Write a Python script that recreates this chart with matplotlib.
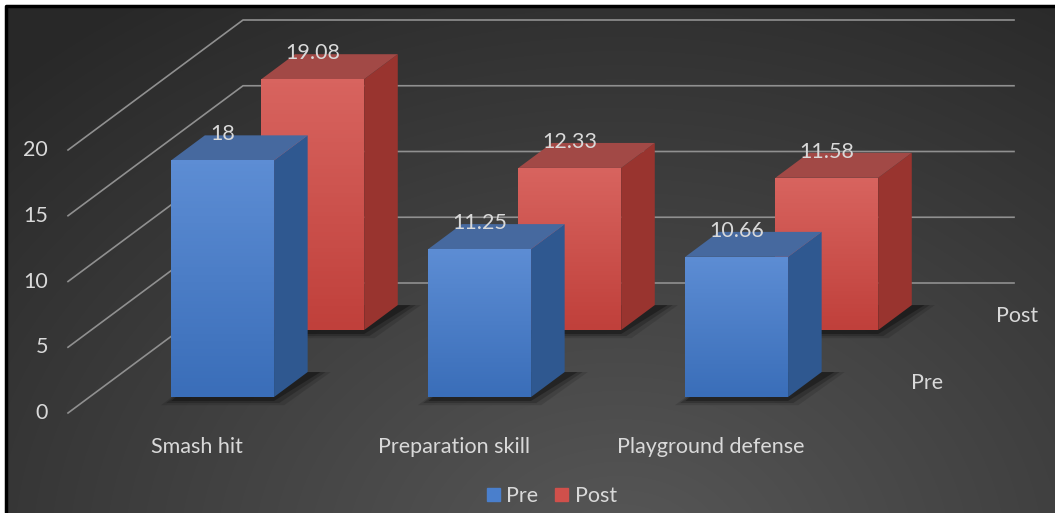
import numpy as np
import matplotlib.pyplot as plt
from matplotlib.patches import Polygon, Patch
from matplotlib.colors import LinearSegmentedColormap

plt.rcParams['font.family'] = ['Lato', 'DejaVu Sans']

categories = ["Smash hit", "Preparation skill", "Playground defense"]
series = ["Pre", "Post"]
pre = [18, 11.25, 10.66]
post = [19.08, 12.33, 11.58]
yticks = [0, 5, 10, 15, 20]

# layout (pixels of the 1055x513 picture)
W, H = 1055, 513
CAT_PX, UNIT_PX = 257.0, 13.15
X0_PX, Y0_PX = 68, 413
TXT = '#d9d9d9'
FS = 15.5

fig = plt.figure(figsize=(W / 100, H / 100), dpi=100, facecolor='white')
ax = fig.add_axes([0, 0, 1, 1])
xmin = -0.5 - X0_PX / CAT_PX
xmax = xmin + W / CAT_PX
ymax = Y0_PX / UNIT_PX
ymin = ymax - H / UNIT_PX


def px(x, y):
    return xmin + x / CAT_PX, ymax - y / UNIT_PX


# depth vector (front plane -> back wall) in data units
DX, DY = 175 / CAT_PX, 130 / UNIT_PX
ROWS = {"Pre": (0.123, 0.315), "Post": (0.638, 0.83)}
BW = 0.4
SHIFT = 0.018

# background: radial grey gradient
gx, gy = np.meshgrid(np.arange(W), np.arange(H))
d = np.hypot((gx - 620) / 1.3, gy - 560) / 650
shade = np.clip(0.345 - 0.18 * d, 0.16, 0.36)
bg = np.dstack([shade] * 3)
l, t = px(6, 6)
r, b = px(W, H)
ax.imshow(bg[6:, 6:], extent=(l, r, b, t), aspect='auto', zorder=0)
ax.plot([l, l, r], [b, t, t], color='black', lw=2.5, zorder=1)

# gridlines: left wall diagonals and back wall
for v in yticks:
    ax.plot([-0.5, -0.5 + DX, 2.5 + DX], [v, v + DY, v + DY],
            color='#909090', lw=1.2, zorder=1)
    tx, _ = px(48, 0)
    ax.text(tx, v, str(v), ha='right', va='center', color=TXT, fontsize=FS)


def draw_row(vals, z0, z1, front_cols, side_col, top_col, zo):
    xs = np.arange(len(vals)) + z0 * DX + SHIFT
    ddx, ddy = (z1 - z0) * DX, (z1 - z0) * DY
    base = z0 * DY
    cmap = LinearSegmentedColormap.from_list('g', front_cols)
    bars = ax.bar(xs, vals, width=BW, bottom=base, color=front_cols[0],
                  zorder=zo + 1)
    for x, v, p in zip(xs, vals, bars):
        xl, xr = x - BW / 2, x + BW / 2
        # soft floor shadow
        for grow, a in [(0.04, 0.12), (0.02, 0.2), (0.0, 0.3)]:
            ax.add_patch(Polygon([(xl - grow, base - 0.3 - grow * 8), (xr + grow, base - 0.3 - grow * 8),
                                  (xr + ddx + 0.05 + grow, base + ddy), (xl + ddx, base + ddy)],
                                 closed=True, fc='black', alpha=a, lw=0, zorder=zo))
        im = ax.imshow(np.linspace(0, 1, 64).reshape(-1, 1), cmap=cmap,
                       extent=(xl, xr, base, base + v), origin='lower',
                       aspect='auto', zorder=zo + 1.5)
        im.set_clip_path(p)
        ax.add_patch(Polygon([(xr, base), (xr + ddx, base + ddy),
                              (xr + ddx, base + ddy + v), (xr, base + v)],
                             closed=True, fc=side_col, lw=0, zorder=zo + 1))
        ax.add_patch(Polygon([(xl, base + v), (xr, base + v),
                              (xr + ddx, base + v + ddy), (xl + ddx, base + v + ddy)],
                             closed=True, fc=top_col, lw=0, zorder=zo + 1))
        ax.text(x, base + v + ddy + 0.1, f"{v:g}", ha='center', va='center',
                color=TXT, fontsize=FS, zorder=zo + 2)


draw_row(post, *ROWS["Post"], ['#c0403b', '#d8645f'], '#99342f', '#a24946', 3)
draw_row(pre, *ROWS["Pre"], ['#3a6eb9', '#5d8dd4'], '#2f5890', '#46699f', 6)

# category labels
for i, c in enumerate(categories):
    ax.text(i, px(0, 447)[1], c, ha='center', va='center', color=TXT, fontsize=FS)

# depth (series) labels
for s in series:
    zc = sum(ROWS[s]) / 2
    ax.text(2.5 + zc * DX + 50 / CAT_PX, zc * DY + 2 / UNIT_PX, s,
            ha='center', va='center', color=TXT, fontsize=FS)

handles = [Patch(color='#4a7fcc', label='Pre'), Patch(color='#d0504b', label='Post')]
ax.legend(handles=handles, loc='center', bbox_to_anchor=(0.523, 1 - 496 / H),
          ncol=2, frameon=False, fontsize=FS, labelcolor=TXT,
          handlelength=0.6, handleheight=0.6, handletextpad=0.3, columnspacing=0.8)

ax.set_xlim(xmin, xmax)
ax.set_ylim(ymin, ymax)
ax.axis('off')
fig.savefig('out.png', dpi=100, facecolor='white')
